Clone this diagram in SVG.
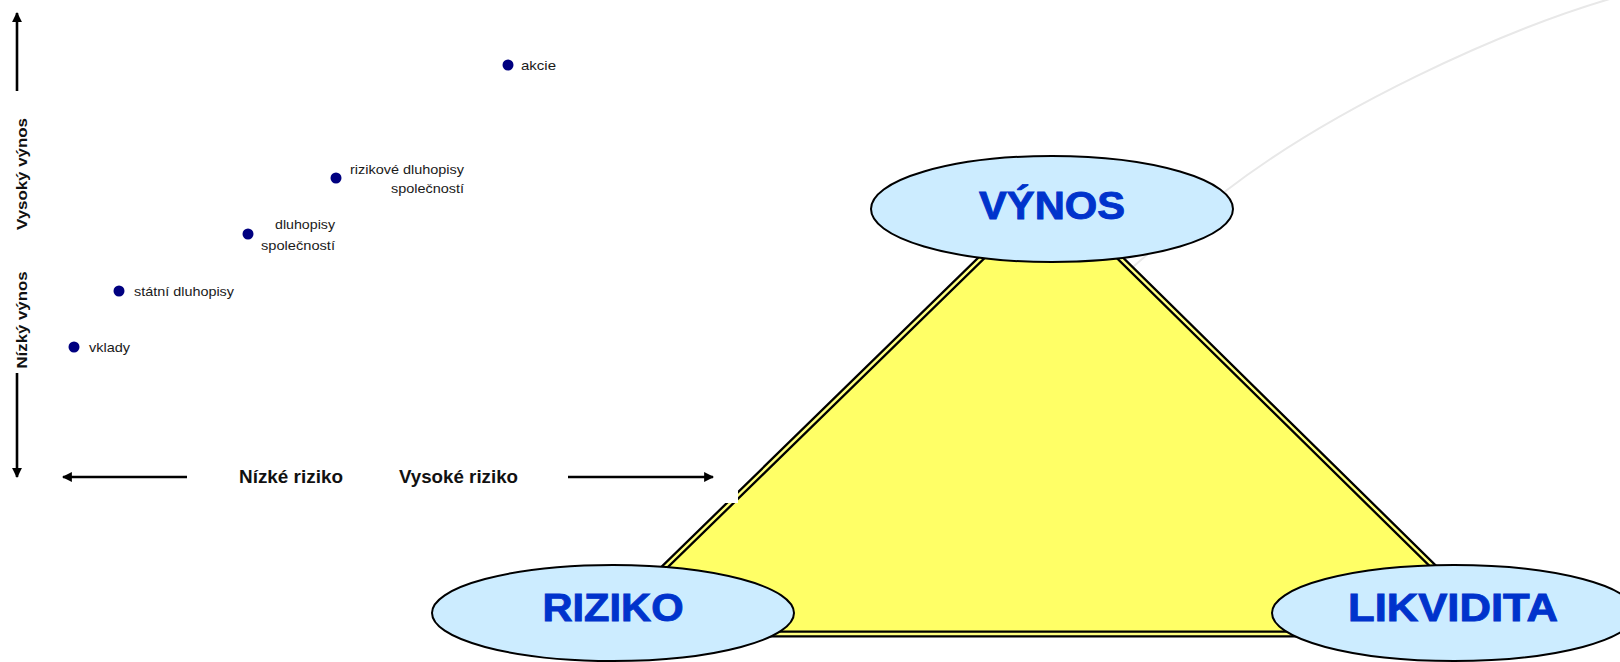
<svg xmlns="http://www.w3.org/2000/svg" width="1620" height="662" viewBox="0 0 1620 662">
  <style>
    .axis { stroke: #000; stroke-width: 2.6; fill: none; }
    .axlbl { font-family: "Liberation Sans", Arial, sans-serif; font-weight: bold; fill: #111; }
    .lbl { font-family: "Liberation Sans", Arial, sans-serif; font-size: 13px; fill: #1a1a1a; }
    .dot { fill: #000080; }
    .oval { fill: #CCECFF; stroke: #000; stroke-width: 2; }
    .big { font-family: "Liberation Sans", Arial, sans-serif; font-weight: bold; font-size: 38px; fill: #0033CC; stroke: #0033CC; stroke-width: 0.9; text-anchor: middle; }
    .tri-out { fill: #FFFF66; stroke: #000; stroke-width: 7; stroke-linejoin: miter; }
    .tri-in { fill: none; stroke: #FFFF80; stroke-width: 2.4; stroke-linejoin: miter; }
  </style>
  <defs>
    <marker id="head" viewBox="0 0 10 10" refX="9" refY="5" markerWidth="3.8" markerHeight="3.8" orient="auto" markerUnits="strokeWidth">
      <path d="M0,0 L10,5 L0,10 z" fill="#000"/>
    </marker>
  </defs>

  <rect width="1620" height="662" fill="#fff"/>

  <!-- faint background arc -->
  <path d="M1620,-4 C1500,30 1330,110 1223,193 C1190,218 1160,243 1133,267" fill="none" stroke="#E8E8E8" stroke-width="2"/>

  <!-- triangle with double border -->
  <g id="triangle">
    <polygon class="tri-out" points="1051,190 596,634 1502,634"/>
    <polygon class="tri-in" points="1051,190 596,634 1502,634"/>
  </g>

  <!-- risk/return chart panel -->
  <g id="chart">
    <rect x="0" y="0" width="738" height="503" fill="#fff"/>
    <g id="axes">
      <line class="axis" x1="17" y1="91" x2="17" y2="13" marker-end="url(#head)"/>
      <line class="axis" x1="17" y1="373" x2="17" y2="477" marker-end="url(#head)"/>
      <line class="axis" x1="187" y1="477" x2="63" y2="477" marker-end="url(#head)"/>
      <line class="axis" x1="568" y1="477" x2="713" y2="477" marker-end="url(#head)"/>
    </g>
    <text class="axlbl" font-size="15" transform="translate(27,174) rotate(-90)" text-anchor="middle" textLength="112" lengthAdjust="spacingAndGlyphs">Vysoký výnos</text>
    <text class="axlbl" font-size="15" transform="translate(27,320) rotate(-90)" text-anchor="middle" textLength="97" lengthAdjust="spacingAndGlyphs">Nízký výnos</text>
    <text class="axlbl" font-size="18" x="239" y="483" textLength="104" lengthAdjust="spacingAndGlyphs">Nízké riziko</text>
    <text class="axlbl" font-size="18" x="399" y="483" textLength="119" lengthAdjust="spacingAndGlyphs">Vysoké riziko</text>

    <g id="akcie">
      <circle class="dot" cx="508" cy="65" r="5.5"/>
      <text class="lbl" x="521" y="70" textLength="35" lengthAdjust="spacingAndGlyphs">akcie</text>
    </g>
    <g id="rizikove-dluhopisy">
      <circle class="dot" cx="336" cy="178" r="5.5"/>
      <text class="lbl" x="350" y="174" textLength="114" lengthAdjust="spacingAndGlyphs">rizikové dluhopisy</text>
      <text class="lbl" x="391" y="193" textLength="73" lengthAdjust="spacingAndGlyphs">společností</text>
    </g>
    <g id="dluhopisy-spolecnosti">
      <circle class="dot" cx="248" cy="234" r="5.5"/>
      <text class="lbl" x="275" y="229" textLength="60" lengthAdjust="spacingAndGlyphs">dluhopisy</text>
      <text class="lbl" x="261" y="250" textLength="74" lengthAdjust="spacingAndGlyphs">společností</text>
    </g>
    <g id="statni-dluhopisy">
      <circle class="dot" cx="119" cy="291" r="5.5"/>
      <text class="lbl" x="134" y="296" textLength="100" lengthAdjust="spacingAndGlyphs">státní dluhopisy</text>
    </g>
    <g id="vklady">
      <circle class="dot" cx="74" cy="347" r="5.5"/>
      <text class="lbl" x="89" y="352" textLength="41" lengthAdjust="spacingAndGlyphs">vklady</text>
    </g>
  </g>

  <!-- corner nodes -->
  <g id="vynos">
    <ellipse class="oval" cx="1052" cy="209" rx="181" ry="53"/>
    <text class="big" x="1052" y="219" textLength="146" lengthAdjust="spacingAndGlyphs">VÝNOS</text>
  </g>
  <g id="riziko">
    <ellipse class="oval" cx="613" cy="613" rx="181" ry="48"/>
    <text class="big" x="613" y="621" textLength="141" lengthAdjust="spacingAndGlyphs">RIZIKO</text>
  </g>
  <g id="likvidita">
    <ellipse class="oval" cx="1454" cy="613" rx="182" ry="48"/>
    <text class="big" x="1453" y="621" textLength="210" lengthAdjust="spacingAndGlyphs">LIKVIDITA</text>
  </g>
</svg>
